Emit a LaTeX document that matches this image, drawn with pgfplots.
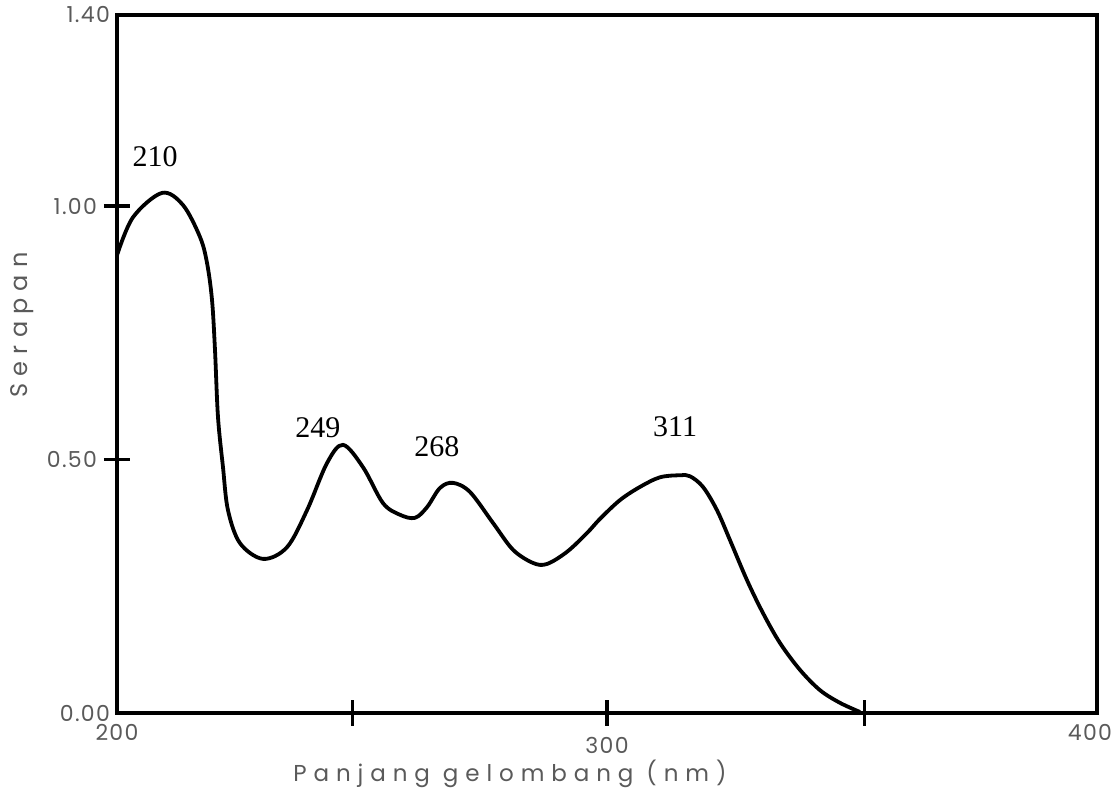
\documentclass[border=0pt]{standalone}
\usepackage{fontspec}
\usepackage{pgfplots}
\pgfplotsset{compat=1.18}
\setmainfont{Liberation Serif}
\newfontfamily\gfont[LetterSpace=6]{Poppins}
\newfontfamily\gfontls[LetterSpace=30]{Poppins}
\definecolor{lblgray}{HTML}{5A5A5A}

\begin{document}
\begin{tikzpicture}
\useasboundingbox (-58.5pt,-39pt) rectangle (499pt,356.5pt);
\begin{axis}[
  scale only axis, width=490pt, height=349pt,
  at={(0,0)}, anchor=south west,
  clip=false,
  xmin=200, xmax=400, ymin=0, ymax=1.377,
  axis line style={line width=2.2pt},
  xtick pos=lower, ytick pos=left,
  xtick={248,300,352.5}, xticklabels={,300,},
  extra x ticks={200,400}, extra x tick labels={200,\hspace*{-7pt}400},
  extra x tick style={major tick length=0pt},
  ytick={0.5,1.0}, yticklabels={0.50,1.00},
  extra y ticks={0,1.377}, extra y tick labels={0.00,1.40},
  extra y tick style={major tick length=0pt},
  tick align=center,
  x tick style={line width=1.6pt, black},
  y tick style={line width=1.6pt, black},
  major tick length=13pt,
  tick label style={font=\gfont\fontsize{11}{12}\selectfont, text=lblgray},
  xticklabel style={yshift=-2pt},
  yticklabel style={xshift=0pt},
  /pgf/number format/assume math mode=true,
  xlabel={\gfontls Panjang gelombang (nm)},
  xlabel style={at={(axis description cs:0.401,-0.087)}, anchor=center, font=\fontsize{11.5}{12.5}\selectfont, text=lblgray},
  ylabel={\gfontls Serapan},
  ylabel style={at={(axis description cs:-0.097,0.556)}, anchor=center, rotate=0, font=\fontsize{12}{13}\selectfont, text=lblgray},
]
\addplot[black, line width=1.9pt, smooth, tension=0.55] coordinates {
(200.0,0.903) (203.27,0.978) (209.18,1.026) (213.47,1.002) (216.94,0.939)
(218.37,0.888) (219.39,0.815) (220.0,0.716) (220.61,0.584) (221.63,0.485)
(222.65,0.400) (225.10,0.335) (229.80,0.304) (234.69,0.327) (238.78,0.400)
(242.86,0.493) (246.12,0.529) (250.20,0.485) (254.29,0.414) (257.76,0.391)
(260.82,0.385) (263.27,0.406) (265.92,0.444) (268.57,0.454) (272.04,0.436)
(276.73,0.375) (280.82,0.322) (284.90,0.296) (287.76,0.294) (291.84,0.318)
(295.92,0.355) (298.57,0.383) (302.65,0.420) (306.73,0.446) (310.82,0.465)
(314.90,0.469) (316.94,0.467) (319.59,0.446) (322.45,0.400) (325.10,0.341)
(328.57,0.262) (331.84,0.197) (335.31,0.138) (339.39,0.085) (343.47,0.045)
(347.55,0.020) (351.63,0.002)
};
\node[font=\fontsize{15}{15}\selectfont] at (axis cs:207.8,1.097) {210};
\node[font=\fontsize{15}{15}\selectfont] at (axis cs:241.0,0.562) {249};
\node[font=\fontsize{15}{15}\selectfont] at (axis cs:265.3,0.525) {268};
\node[font=\fontsize{15}{15}\selectfont] at (axis cs:313.9,0.564) {311};
\end{axis}
\end{tikzpicture}
\end{document}
